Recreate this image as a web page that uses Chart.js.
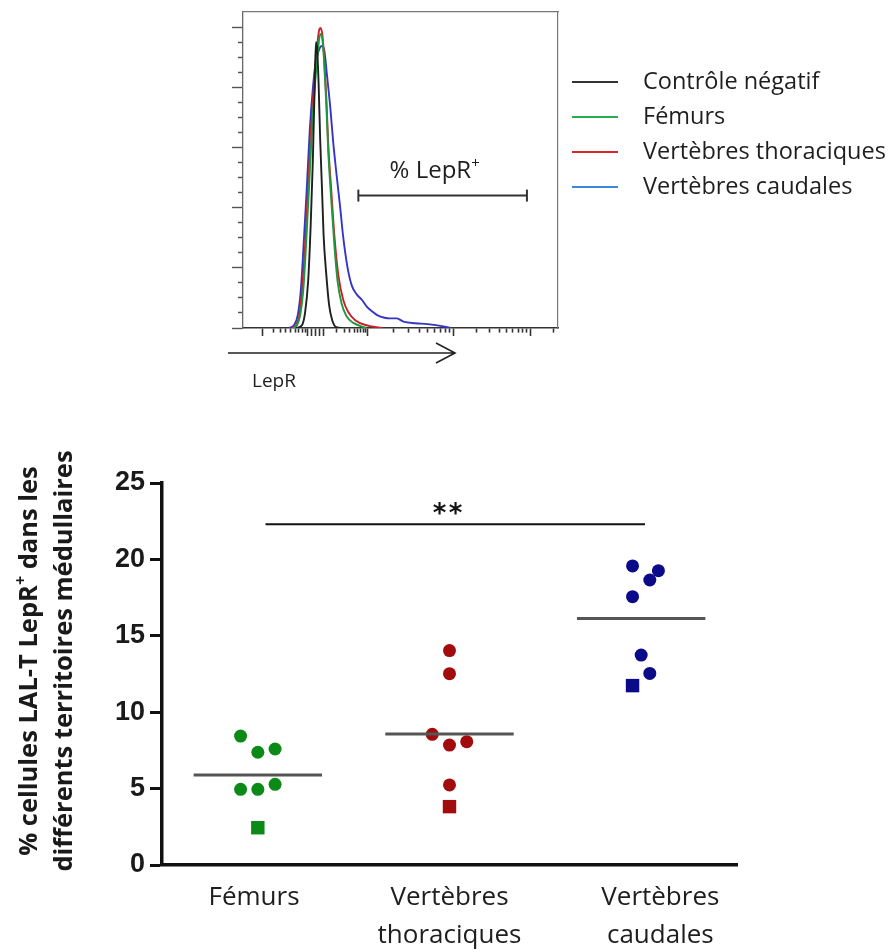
<!DOCTYPE html>
<html lang="fr">
<head>
<meta charset="UTF-8">
<title>LepR - territoires médullaires</title>
<script src="https://cdn.jsdelivr.net/npm/chart.js"></script>
<style>
  body { margin: 0; background: #fff; width: 892px; height: 952px; position: relative; overflow: hidden; font-family: 'Open Sans', sans-serif; }
  #histo { position: absolute; left: 0; top: 0; }
  #dots { position: absolute; left: 0; top: 430px; }
  #legend { position: absolute; left: 572px; top: 62px; }
  .row { display: flex; align-items: center; height: 35px; }
  .sw { width: 46px; height: 2px; margin-right: 25px; margin-top: 4px; }
  .row span { font-size: 23.5px; color: #1e1e1e; white-space: nowrap; }
</style>
</head>
<body>
<canvas id="histo" width="892" height="400"></canvas>
<div id="legend"></div>
<canvas id="dots" width="892" height="522"></canvas>

<script>
// ---------- histogram data (LepR channel, % of max) ----------
const ctrlCh    = [173, 192, 202, 212, 220, 227, 233, 237, 241, 246, 251, 257, 262, 271, 280, 290, 303, 323];
const ctrlCount = [0, 1, 5.3, 15.9, 34.1, 55.6, 80.5, 95, 92.7, 80.5, 62.3, 45.7, 30.8, 17.5, 7.6, 2.6, 0.3, 0];

const femCh    = [163, 176, 186, 196, 205, 215, 225, 235, 243, 251, 258, 264, 271, 277, 287, 297, 307, 320, 336, 359, 401];
const femCount = [0, 1, 4.3, 12.6, 27.5, 47.4, 67.2, 82.1, 91.4, 97.7, 96, 88.1, 73.8, 58.9, 42.4, 27.5, 15.9, 8.3, 4.0, 1.7, 0];

const thorCh    = [160, 173, 183, 192, 202, 212, 222, 232, 240, 247, 252, 258, 264, 271, 277, 287, 297, 310, 326, 342, 365, 398, 453];
const thorCount = [0, 1, 4.3, 12.6, 27.5, 47.4, 67.2, 82.8, 92.7, 98.7, 99.7, 97.4, 89.4, 76.2, 61.3, 45.7, 30.8, 17.5, 9.3, 5.3, 2.6, 1.0, 0];

const caudCh    = [150, 166, 178, 188, 197, 207, 217, 227, 236, 246, 256, 264, 273, 284, 293, 303, 316, 326, 340, 354, 371, 387, 403, 420, 436, 460, 479, 500, 522, 560, 600, 642, 675];
const caudCount = [0, 1, 4.3, 12.6, 27.5, 45.7, 65.6, 79.5, 88.1, 92.1, 93.7, 92.4, 84, 73, 62, 52, 40, 30, 20, 14, 11, 9.3, 7, 5.5, 4.3, 3.4, 3.2, 3.2, 2.1, 1.6, 1.3, 0.7, 0];

const legendLabels = ['Contrôle négatif', 'Fémurs', 'Vertèbres thoraciques', 'Vertèbres caudales'];
const curveColors  = ['#1f1f1f', '#1d9a3e', '#c8232b', '#3535c8'];
const legendColors = ['#333333', '#25b050', '#d8262c', '#3d87d8'];

const gateCh = [375, 923];
const gateCount = [44, 44];
const gateLabelCh = 623;

const chMajorTicks = [62, 209, 222, 235, 248, 261, 404, 685, 933];
const chMinorTicks = [98, 121, 137, 153, 170, 179, 192, 202, 303, 329, 346, 362, 372, 381, 391, 398,
                      489, 538, 574, 600, 623, 642, 659, 672, 760, 802, 835, 858, 877, 894, 910, 923, 1008];
const countTicks = [0, 5, 10, 15, 20, 25, 30, 35, 40, 45, 50, 55, 60, 65, 70, 75, 80, 85, 90, 95, 100];

// ---------- dot plot data ----------
const groups = [['Fémurs'], ['Vertèbres', 'thoraciques'], ['Vertèbres', 'caudales']];
const groupLabelPos = [0.98, 2.0, 3.1];
const groupColors = ['#0c8a17', '#a30c0c', '#0b0b8a'];

const femursVals   = [8.44, 7.38, 7.59, 4.95, 4.95, 5.28];
const femursJitter = [-0.09, 0, 0.09, -0.09, 0, 0.09];
const thorVals     = [14.03, 12.52, 8.55, 7.85, 8.07, 5.24];
const thorJitter   = [0, 0, -0.09, 0, 0.09, 0];
const caudVals     = [19.57, 19.26, 18.65, 17.56, 13.74, 12.54];
const caudJitter   = [-0.045, 0.09, 0.045, -0.045, 0, 0.045];

const squareVals   = [2.44, 3.82, 11.74];
const squareJitter = [0, 0, -0.045];
const means = [5.89, 8.57, 16.14];
const meanHalf = 0.335;

const sigFrom = 1.04, sigTo = 3.02, sigLevel = 22.3, starLevel = 23.4, starPos = 1.99;

// ---------- legend (html) ----------
const legendBox = document.getElementById('legend');
legendLabels.forEach((lab, i) => {
    const row = document.createElement('div');
    row.className = 'row';
    row.innerHTML = '<div class="sw" style="background:' + legendColors[i] + '"></div><span>' + lab + '</span>';
    legendBox.appendChild(row);
});

// text with a small raised "+"
function drawSupText(ctx, before, after, x, y, font, supFont, align) {
    ctx.font = font;
    const w1 = ctx.measureText(before).width;
    const w3 = ctx.measureText(after).width;
    ctx.font = supFont;
    const w2 = ctx.measureText('+').width;
    const total = w1 + w2 + w3;
    let x0 = align === 'center' ? x - total / 2 : x;
    const size = parseFloat(font.match(/(\d+(\.\d+)?)px/)[1]);
    ctx.textAlign = 'left';
    ctx.textBaseline = 'alphabetic';
    ctx.font = font;
    ctx.fillText(before, x0, y);
    ctx.font = supFont;
    ctx.fillText('+', x0 + w1, y - size * 0.42);
    ctx.font = font;
    ctx.fillText(after, x0 + w1 + w2, y);
}

const histoDecor = {
    id: 'histoDecor',
    afterDraw(chart) {
        const ctx = chart.ctx;
        const a = chart.chartArea;
        const xs = chart.scales.x, ys = chart.scales.y;
        ctx.save();
        // gate label
        ctx.fillStyle = '#1e1e1e';
        drawSupText(ctx, '% LepR', '', xs.getPixelForValue(gateLabelCh), ys.getPixelForValue(gateCount[0]) - 18,
            '24px "Open Sans"', '15px "Open Sans"', 'center');
        // axis arrow
        const ay = a.bottom + 25;
        ctx.strokeStyle = '#222';
        ctx.lineWidth = 1.6;
        ctx.beginPath();
        ctx.moveTo(a.left - 15, ay);
        ctx.lineTo(a.left + 212, ay);
        ctx.moveTo(a.left + 193, ay - 10);
        ctx.lineTo(a.left + 212, ay);
        ctx.lineTo(a.left + 193, ay + 10);
        ctx.stroke();
        ctx.font = '19px "Open Sans"';
        ctx.textAlign = 'left';
        ctx.textBaseline = 'alphabetic';
        ctx.fillText('LepR', a.left + 9, ay + 34);
        ctx.restore();
    }
};

function pts(xs, ys) {
    return xs.map((v, i) => ({ x: v, y: ys[i] }));
}

const curves = [pts(ctrlCh, ctrlCount), pts(femCh, femCount), pts(thorCh, thorCount), pts(caudCh, caudCount)];

new Chart(document.getElementById('histo').getContext('2d'), {
    type: 'line',
    data: {
        datasets: curves.map((d, i) => ({
            label: legendLabels[i],
            data: d,
            borderColor: curveColors[i],
            borderWidth: 1.9,
            pointRadius: 0,
            cubicInterpolationMode: 'monotone',
            fill: false
        })).concat([{
            label: 'gate',
            data: pts(gateCh, gateCount),
            borderColor: '#333',
            borderWidth: 2,
            pointStyle: 'line',
            pointRadius: 6,
            pointRotation: 90,
            pointBorderWidth: 2,
            pointBorderColor: '#333'
        }])
    },
    options: {
        responsive: false,
        animation: false,
        layout: { padding: { left: 223, right: 334, top: 12, bottom: 52 } },
        plugins: { legend: { display: false }, tooltip: { enabled: false } },
        scales: {
            x: {
                type: 'linear', position: 'bottom', min: 0, max: 1024,
                afterBuildTicks: s => {
                    s.ticks = chMajorTicks.map(v => ({ value: v, major: true }))
                        .concat(chMinorTicks.map(v => ({ value: v, major: false })))
                        .sort((p, q) => p.value - q.value);
                },
                afterFit: s => { s.height = 20; },
                ticks: { display: false },
                grid: {
                    drawOnChartArea: false, tickLength: 8, tickWidth: 1.6, tickColor: '#333',
                    tickBorderDash: c => (c.tick && c.tick.major) ? [] : [4, 20]
                },
                border: { color: '#333', width: 1.6 }
            },
            y: {
                type: 'linear', position: 'left', min: 0, max: 105,
                afterBuildTicks: s => { s.ticks = countTicks.map(v => ({ value: v, major: v % 20 === 0 })); },
                afterFit: s => { s.width = 20; },
                ticks: { display: false },
                grid: {
                    drawOnChartArea: false, tickLength: 11, tickWidth: 1.4, tickColor: '#555',
                    tickBorderDash: c => (c.tick && c.tick.major) ? [] : [0, 6, 20]
                },
                border: { color: '#666', width: 1.3 }
            },
            xTop: {
                type: 'linear', position: 'top', min: 0, max: 1024,
                afterFit: s => { s.height = 0; },
                ticks: { display: false }, grid: { display: false },
                border: { color: '#777', width: 1.2 }
            },
            yRight: {
                type: 'linear', position: 'right', min: 0, max: 105,
                afterFit: s => { s.width = 0; },
                ticks: { display: false }, grid: { display: false },
                border: { color: '#777', width: 1.2 }
            }
        }
    },
    plugins: [histoDecor]
});

// ---------- dot plot ----------
const dotDecor = {
    id: 'dotDecor',
    afterDraw(chart) {
        const ctx = chart.ctx;
        const xs = chart.scales.x, ys = chart.scales.y;
        ctx.save();
        // significance stars
        ctx.fillStyle = '#111';
        ctx.font = 'bold 26px "DejaVu Sans"';
        ctx.textAlign = 'center';
        ctx.textBaseline = 'alphabetic';
        const sx = xs.getPixelForValue(starPos), sy = ys.getPixelForValue(starLevel);
        ctx.fillText('*', sx - 8, sy + 15);
        ctx.fillText('*', sx + 8, sy + 15);
        // y axis title (two lines, rotated)
        const cy = (chart.chartArea.top + chart.chartArea.bottom) / 2 - 13;
        ctx.translate(0, cy);
        ctx.rotate(-Math.PI / 2);
        ctx.fillStyle = '#1a1a1a';
        drawSupText(ctx, '% cellules LAL-T LepR', ' dans les', 0, 37, 'bold 25.5px "Open Sans"', 'bold 16px "Open Sans"', 'center');
        ctx.font = 'bold 25.5px "Open Sans"';
        ctx.textAlign = 'center';
        ctx.fillText('différents territoires médullaires', 0, 72);
        ctx.restore();
    }
};

const circleSets = [
    { vals: femursVals, jit: femursJitter },
    { vals: thorVals, jit: thorJitter },
    { vals: caudVals, jit: caudJitter }
];

const dotDatasets = [{
    data: [{ x: sigFrom, y: sigLevel }, { x: sigTo, y: sigLevel }],
    showLine: true, borderColor: '#111', borderWidth: 2, pointRadius: 0
}];
means.forEach((m, i) => dotDatasets.push({
    data: [{ x: i + 1 - meanHalf, y: m }, { x: i + 1 + meanHalf, y: m }],
    showLine: true, borderColor: '#555', borderWidth: 3, pointRadius: 0
}));
circleSets.forEach((g, i) => dotDatasets.push({
    data: g.vals.map((v, k) => ({ x: i + 1 + g.jit[k], y: v })),
    pointStyle: 'circle', pointRadius: 6.5, backgroundColor: groupColors[i], borderWidth: 0
}));
squareVals.forEach((v, i) => dotDatasets.push({
    data: [{ x: i + 1 + squareJitter[i], y: v }],
    pointStyle: 'rect', pointRadius: 9.5, backgroundColor: groupColors[i], borderWidth: 0
}));

new Chart(document.getElementById('dots').getContext('2d'), {
    type: 'scatter',
    data: { datasets: dotDatasets },
    options: {
        responsive: false,
        animation: false,
        layout: { padding: { left: 0, right: 155, top: 53, bottom: 0 } },
        plugins: { legend: { display: false }, tooltip: { enabled: false } },
        scales: {
            x: {
                type: 'linear', min: 0.5, max: 3.5,
                afterBuildTicks: s => { s.ticks = groupLabelPos.map(v => ({ value: v })); },
                afterFit: s => { s.height = 87; },
                ticks: {
                    autoSkip: false, maxRotation: 0, padding: 14,
                    color: '#1e1e1e',
                    font: { family: 'Open Sans', size: 26, lineHeight: 1.46 },
                    callback: (v, i) => groups[i]
                },
                grid: { drawOnChartArea: false, drawTicks: false },
                border: { color: '#111', width: 3.5 }
            },
            y: {
                min: 0, max: 25,
                afterFit: s => { s.width = 162; },
                ticks: {
                    stepSize: 5, padding: 5, color: '#1a1a1a',
                    font: { family: 'Liberation Sans', size: 27, weight: 'bold' }
                },
                grid: { drawOnChartArea: false, tickLength: 12, tickWidth: 3, tickColor: '#111' },
                border: { color: '#111', width: 3.5 }
            }
        }
    },
    plugins: [dotDecor]
});
</script>
</body>
</html>
